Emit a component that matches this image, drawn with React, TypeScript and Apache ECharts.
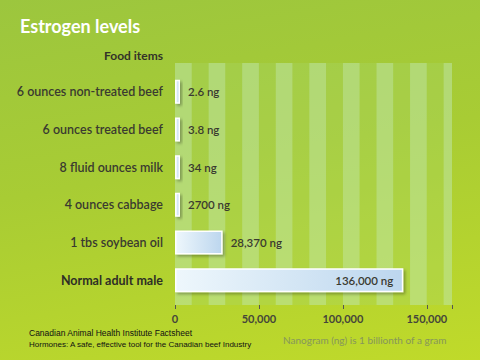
import React, { useEffect, useRef } from "react";
import * as echarts from "echarts";

const categories = [
  "6 ounces non-treated beef",
  "6 ounces treated beef",
  "8 fluid ounces milk",
  "4 ounces cabbage",
  "1 tbs soybean oil",
  "Normal adult male",
];
const values = [2.6, 3.8, 34, 2700, 28370, 136000];
const valueLabels = ["2.6 ng", "3.8 ng", "34 ng", "2700 ng", "28,370 ng", "136,000 ng"];
const axisMax = 165000;
const tickStep = 50000;
const stripeStep = 10000;

export default function App() {
  const ref = useRef<HTMLDivElement>(null);
  useEffect(() => {
    if (!ref.current) return;
    const chart = echarts.init(ref.current, null, { renderer: "svg" });
    const font = "Lato";
    const barStyle = {
      color: new echarts.graphic.LinearGradient(0, 0, 1, 0, [
        { offset: 0, color: "#eef7fc" },
        { offset: 1, color: "#bcd6ee" },
      ]),
      borderColor: "#ffffff",
      borderWidth: 1.5,
      shadowColor: "rgba(0,0,0,0.3)",
      shadowBlur: 3,
      shadowOffsetX: 2,
      shadowOffsetY: 2,
    };
    chart.setOption({
      animation: false,
      grid: [
        { left: 175, right: 28, top: 63, bottom: 55 },
        { left: 175, right: 28, top: 73, bottom: 61 },
      ],
      xAxis: [
        {
          gridIndex: 0,
          type: "value",
          min: 0,
          max: axisMax,
          interval: tickStep,
          axisLine: { show: false },
          axisTick: { show: true, length: 4, lineStyle: { color: "#555", width: 1 } },
          splitLine: { show: false },
          axisLabel: {
            margin: 8,
            color: "#45453a",
            fontFamily: font,
            fontWeight: "bold",
            fontSize: 11,
            formatter: (v: number) => (v > 150000 ? "" : v.toLocaleString("en-US")),
          },
        },
        {
          gridIndex: 0,
          type: "value",
          min: 0,
          max: axisMax,
          interval: stripeStep,
          show: true,
          axisLine: { show: false },
          axisTick: { show: false },
          axisLabel: { show: false },
          splitLine: { show: false },
          splitArea: {
            show: true,
            areaStyle: { color: ["rgba(190,230,170,0.55)", "rgba(170,215,110,0.3)"] },
          },
        },
        {
          gridIndex: 1,
          type: "value",
          min: 0,
          max: axisMax,
          show: false,
        },
      ],
      yAxis: [
        { gridIndex: 0, type: "value", min: 0, max: 1, show: false },
        {
          gridIndex: 1,
          type: "category",
          data: categories,
          inverse: true,
          axisLine: { show: false },
          axisTick: { show: false },
          axisLabel: {
            margin: 12,
            color: "#3a3a30",
            fontFamily: font,
            fontSize: 12.5,
            fontWeight: 600,
            formatter: (v: string) => (v === "Normal adult male" ? "{b|" + v + "}" : v),
            rich: { b: { fontFamily: font, fontSize: 12.5, fontWeight: "bold", color: "#2e2e26" } },
          },
        },
      ],
      series: [
        {
          type: "bar",
          xAxisIndex: 2,
          yAxisIndex: 1,
          barWidth: 24,
          barMinHeight: 5,
          data: values.map((v, i) => ({
            value: v,
            label:
              i === values.length - 1
                ? { position: "insideRight", distance: 10 }
                : { position: "right", distance: 8 },
          })),
          itemStyle: barStyle,
          label: {
            show: true,
            color: "#3a3a30",
            fontFamily: font,
            fontSize: 11.5,
            fontWeight: 600,
            formatter: (p: any) => valueLabels[p.dataIndex],
          },
        },
      ],
      graphic: [
        {
          type: "text",
          left: 20,
          top: 17,
          style: { text: "Estrogen levels", fill: "#ffffff", font: "bold 18px Lato" },
        },
        {
          type: "text",
          right: 317,
          top: 49,
          style: { text: "Food items", fill: "#333328", font: "bold 12px Lato" },
        },
        {
          type: "text",
          left: 283,
          top: 335,
          style: { text: "Nanogram (ng) is 1 billionth of a gram", fill: "#86965c", font: "10px Lato" },
        },
        {
          type: "text",
          left: 29,
          top: 328,
          style: { text: "Canadian Animal Health Institute Factsheet", fill: "#111", font: "8.5px 'Liberation Sans'" },
        },
        {
          type: "text",
          left: 29,
          top: 340,
          style: {
            text: "Hormones: A safe, effective tool for the Canadian beef Industry",
            fill: "#111",
            font: "8px 'Liberation Sans'",
          },
        },
      ],
    });
    return () => chart.dispose();
  }, []);
  return (
    <div
      ref={ref}
      style={{
        position: "fixed",
        left: 0,
        top: 0,
        width: 480,
        height: 360,
        background: "linear-gradient(170deg, #9cc63e 0%, #a8cc34 45%, #c0da2a 100%)",
      }}
    />
  );
}
